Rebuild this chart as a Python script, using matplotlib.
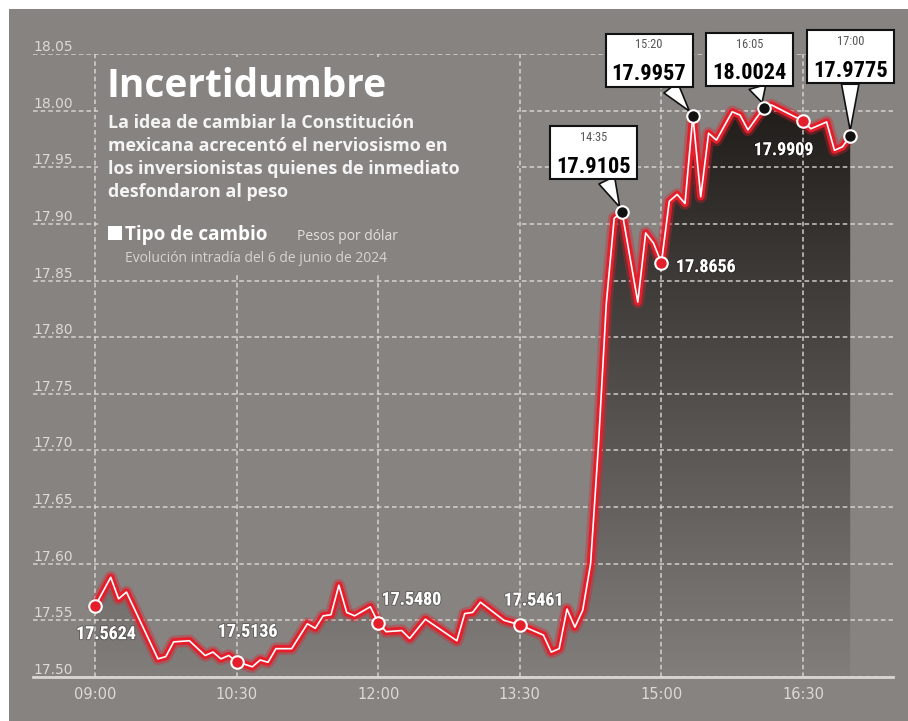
import os
import matplotlib
matplotlib.use("Agg")
import matplotlib.pyplot as plt
import numpy as np
from matplotlib import font_manager
from matplotlib import patheffects
from matplotlib.patches import Rectangle
from matplotlib.text import Text
from matplotlib.offsetbox import AnnotationBbox, DrawingArea

# ---- data ----
times = ["09:00", "09:10", "09:15", "09:20", "09:40", "09:45", "09:50", "10:00",
         "10:10", "10:15", "10:20", "10:25", "10:30", "10:40", "10:45", "10:50",
         "10:55", "11:05", "11:15", "11:20", "11:25", "11:30", "11:35", "11:40",
         "11:45", "11:55", "12:00", "12:05", "12:15", "12:20", "12:30", "12:50",
         "12:55", "13:00", "13:05", "13:20", "13:30", "13:35", "13:45", "13:50",
         "13:55", "14:00", "14:05", "14:10", "14:15", "14:20", "14:25", "14:30",
         "14:35", "14:45", "14:50", "14:55", "15:00", "15:05", "15:10", "15:15",
         "15:20", "15:25", "15:30", "15:35", "15:45", "15:50", "15:55", "16:05",
         "16:10", "16:30", "16:35", "16:45", "16:50", "16:55", "17:00"]
rates = [17.5624, 17.588, 17.569, 17.575, 17.516, 17.518, 17.531, 17.532,
         17.519, 17.522, 17.516, 17.519, 17.5136, 17.509, 17.515, 17.513,
         17.525, 17.525, 17.547, 17.543, 17.554, 17.555, 17.581, 17.557,
         17.554, 17.562, 17.5480, 17.540, 17.541, 17.534, 17.551, 17.532,
         17.556, 17.557, 17.566, 17.550, 17.5461, 17.543, 17.537, 17.522,
         17.525, 17.560, 17.544, 17.559, 17.600, 17.705, 17.830, 17.905,
         17.9105, 17.831, 17.892, 17.883, 17.8656, 17.920, 17.926, 17.918,
         17.9957, 17.924, 17.980, 17.974, 17.999, 17.996, 17.983, 18.0024,
         18.005, 17.9909, 17.984, 17.990, 17.965, 17.968, 17.9775]

red_times = ["09:00", "10:30", "12:00", "13:30", "15:00", "16:30"]
red_labels = ["17.5624", "17.5136", "17.5480", "17.5461", "17.8656", "17.9909"]
box_times = ["14:35", "15:20", "16:05", "17:00"]
box_labels = ["17.9105", "17.9957", "18.0024", "17.9775"]

x_tick_labels = ["09:00", "10:30", "12:00", "13:30", "15:00", "16:30"]
y_ticks = [17.50, 17.55, 17.60, 17.65, 17.70, 17.75, 17.80, 17.85, 17.90,
           17.95, 18.00, 18.05]

title = "Incertidumbre"
subtitle = ["La idea de cambiar la Constitución",
            "mexicana acrecentó el nerviosismo en",
            "los inversionistas quienes de inmediato",
            "desfondaron al peso"]
legend_name = "Tipo de cambio"
legend_unit = "Pesos por dólar"
legend_note = "Evolución intradía del 6 de junio de 2024"

# ---- layout / style ----
W, H = 908, 721
BG = "#868380"
RED = "#e41e2b"
GRID = "#dddad7"
TICK = "#dcd9d6"

names = {f.name for f in font_manager.fontManager.ttflist}
HEAD = "Open Sans" if "Open Sans" in names else "DejaVu Sans"


def find_font(stems, fallback):
    files = {os.path.splitext(os.path.basename(f.fname))[0].lower(): f.fname
             for f in font_manager.fontManager.ttflist}
    for s in stems:
        if s.lower() in files:
            return font_manager.FontProperties(fname=files[s.lower()])
    return font_manager.FontProperties(**fallback)


COND_B = find_font(["NotoSans-ExtraCondensedBold", "NotoSans-CondensedBold",
                    "RobotoCondensed-Bold", "LiberationSansNarrow-Bold",
                    "DejaVuSansCondensed-Bold"],
                   dict(family="Liberation Sans", weight="bold"))
COND_R = find_font(["NotoSans-ExtraCondensed", "NotoSans-Condensed",
                    "RobotoCondensed-Regular", "LiberationSansNarrow-Regular",
                    "DejaVuSansCondensed"],
                   dict(family="Liberation Sans"))


def to_min(s):
    h, m = s.split(":")
    return (int(h) - 9) * 60 + int(m)


def fx(x):
    return x / W


def fy(y):
    return 1 - y / H


fig = plt.figure(figsize=(W / 100, H / 100), dpi=100, facecolor=BG)
renderer = fig.canvas.get_renderer()


def fit_size(prop, sample, width_px, max_pt):
    # font size (pt) giving the wanted width, capped by a max size
    p = prop.copy()
    p.set_size(10)
    t = fig.text(0, 0, sample, fontproperties=p)
    w = t.get_window_extent(renderer).width
    t.remove()
    return min(10 * width_px / w, max_pt)


def sized(prop, size):
    p = prop.copy()
    p.set_size(size)
    return p


BOX_VAL = sized(COND_B, fit_size(COND_B, "17.9957", 75, 23))
BOX_TIME = sized(COND_R, fit_size(COND_R, "15:20", 27, 10.5))
LINE_LAB = sized(COND_B, fit_size(COND_B, "17.5624", 60, 16))

tm = np.array([to_min(t) for t in times])
vals = np.array(rates)
lookup = dict(zip(times, rates))

# white margin top / left
fig.patches.append(Rectangle((0, fy(9)), 1, 1, transform=fig.transFigure,
                             fc="white", ec="none", zorder=1))
fig.patches.append(Rectangle((0, 0), fx(9), 1, transform=fig.transFigure,
                             fc="white", ec="none", zorder=1))

ax = fig.add_axes([fx(33), fy(677), fx(893) - fx(33), fy(54) - fy(677)])
ax.set_facecolor("none")

# gradient fill under the curve
poly = ax.fill_between(tm, vals, 17.50, color="none", lw=0)
rows = np.linspace(18.05, 17.50, 300)
alpha = np.clip(0.05 + 0.9 * (rows - 17.50) / 0.5, 0, 0.95)
rgba = np.zeros((300, 2, 4))
rgba[..., 0], rgba[..., 1], rgba[..., 2] = 0.11, 0.095, 0.085
rgba[..., 3] = alpha[:, None]
im = ax.imshow(rgba, extent=[tm[0], tm[-1], 17.50, 18.05], aspect="auto",
               origin="upper", zorder=0.5, interpolation="bilinear")
im.set_clip_path(poly.get_paths()[0], transform=ax.transData)

ax.set_xlim(-39.4, 507.2)
ax.set_ylim(17.50, 18.05)

# grid
ax.set_yticks(y_ticks)
ax.set_yticklabels([])
ax.set_xticks([to_min(t) for t in x_tick_labels])
ax.set_xticklabels(x_tick_labels, color=TICK, fontsize=10.5, family="DejaVu Sans")
ax.tick_params(length=0)
ax.tick_params(axis="x", pad=7)
ax.grid(True, color=GRID, lw=1.1, linestyle=(0, (3, 2)), alpha=0.9)
for s in ["top", "left", "right"]:
    ax.spines[s].set_visible(False)
ax.spines["bottom"].set_color("#d8d5d2")
ax.spines["bottom"].set_linewidth(2)

for v in y_ticks:
    ax.text(0.0, v, f"{v:.2f}", transform=ax.get_yaxis_transform(),
            ha="left", va="bottom", fontsize=10, color=TICK,
            family="DejaVu Sans", zorder=2)

# panel hiding grid behind the headline
ax.add_patch(Rectangle((fx(98), fy(272)), fx(517) - fx(98), fy(57) - fy(272),
                       transform=fig.transFigure, fc=BG, ec="none",
                       zorder=1.8, clip_on=False))

# line: glow, red band, white core
ax.plot(tm, vals, color=RED, lw=9, alpha=0.35, zorder=3, solid_joinstyle="round")
ax.plot(tm, vals, color=RED, lw=5.3, zorder=3.1, solid_joinstyle="round")
ax.plot(tm, vals, color="white", lw=1.2, zorder=3.2, solid_joinstyle="round")

# red markers with labels
shadow = [patheffects.withStroke(linewidth=1.5, foreground=(0, 0, 0, 0.25))]
red_offsets = [(8, -20), (8, 21.5), (24, 16.5), (10, 17.5), (32, -3), (-14, -21)]
for t, lab, off in zip(red_times, red_labels, red_offsets):
    x, v = to_min(t), lookup[t]
    ax.plot(x, v, "o", ms=9, mfc=RED, mec="white", mew=1.5, zorder=6)
    ax.annotate(lab, (x, v), xytext=off, textcoords="offset points",
                ha="center", va="center", fontproperties=LINE_LAB,
                color="white", zorder=6, path_effects=shadow)

# black markers with callout boxes (box 87x53 px)
BW, BH = 87 * 0.72, 53 * 0.72
box_offsets = [(-20.5, 42.5), (-31.5, 39.7), (-10.2, 34.7), (0, 57)]
for t, lab, off in zip(box_times, box_labels, box_offsets):
    x, v = to_min(t), lookup[t]
    ax.plot(x, v, "o", ms=9, mfc="#111111", mec="white", mew=1.5, zorder=8)
    da = DrawingArea(BW, BH, clip=False)
    da.add_artist(Text(BW / 2, BH - 10.3, t, ha="center", va="baseline",
                       fontproperties=BOX_TIME, color="#555555"))
    da.add_artist(Text(BW / 2, 5.0, lab, ha="center", va="baseline",
                       fontproperties=BOX_VAL, color="black"))
    ab = AnnotationBbox(da, (x, v), xybox=off, boxcoords="offset points",
                        xycoords="data", pad=0, frameon=True,
                        bboxprops=dict(boxstyle="square,pad=0", fc="white",
                                       ec="#111111", lw=1.5),
                        arrowprops=dict(arrowstyle="wedge,tail_width=0.9",
                                        fc="white", ec="#111111", lw=1.2,
                                        shrinkA=0, shrinkB=4),
                        zorder=7, annotation_clip=False)
    ax.add_artist(ab)

# headline block
fig.text(fx(106), fy(97), title, fontsize=28, weight="bold", color="white",
         family=HEAD, va="baseline")
for i, line in enumerate(subtitle):
    fig.text(fx(108), fy(128 + 23 * i), line, fontsize=12.9, weight="bold",
             color="#f4f4f4", family=HEAD, va="baseline")
fig.patches.append(Rectangle((fx(108), fy(240)), fx(122) - fx(108),
                             fy(226) - fy(240), transform=fig.transFigure,
                             fc="white", ec="none", zorder=2))
fig.text(fx(125), fy(240), legend_name, fontsize=13.6, weight="bold",
         color="white", family=HEAD, va="baseline")
fig.text(fx(297), fy(240), legend_unit, fontsize=10, color="#e2dfdc",
         family=HEAD, va="baseline")
fig.text(fx(125), fy(262), legend_note, fontsize=10, color="#d6d3d0",
         family=HEAD, va="baseline")

fig.savefig("out.png", dpi=100, facecolor=BG)
